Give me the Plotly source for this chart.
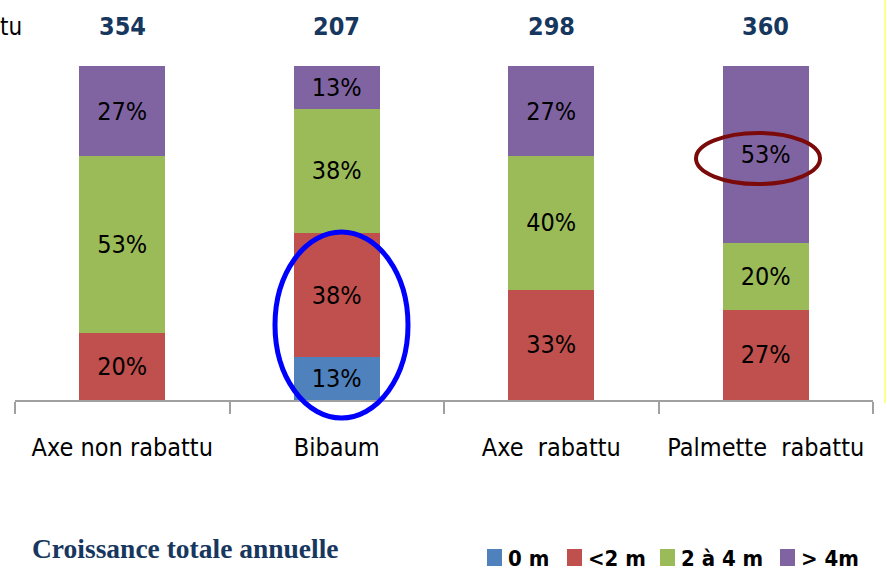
import plotly.graph_objects as go

# DATA -----------------------------------------------------------------------
categories = ["Axe non rabattu", "Bibaum", "Axe  rabattu", "Palmette  rabattu"]
totals = [354, 207, 298, 360]
series_names = ["0 m", "<2 m", "2 à 4 m", "> 4m"]
pct_0m = [0, 13, 0, 0]
pct_lt2m = [20, 38, 33, 27]
pct_2a4m = [53, 38, 40, 20]
pct_gt4m = [27, 13, 27, 53]

colors = ["#4F81BD", "#C0504D", "#9BBB59", "#8064A2"]
NARROW = "DejaVu Sans Condensed, Liberation Sans Narrow, sans-serif"
NAVY = "#17375E"

# plot area in pixels: x 15..873, y 66..400
def px(x):
    return (x - 15) / 858


def py(y):
    return (400 - y) / 334


def bar_trace(name, values, color):
    return go.Bar(
        x=categories,
        y=values,
        name=name,
        width=0.4,
        marker=dict(color=color, line=dict(width=0)),
        text=[f"{v}%" if v else "" for v in values],
        textposition="inside",
        insidetextanchor="middle",
        textangle=0,
        constraintext="none",
        textfont=dict(family=NARROW, size=25, color="black"),
        showlegend=False,
    )


fig = go.Figure()
for name, vals, col in zip(series_names, [pct_0m, pct_lt2m, pct_2a4m, pct_gt4m], colors):
    fig.add_trace(bar_trace(name, vals, col))

# totals above the bars
for cat, tot in zip(categories, totals):
    fig.add_annotation(
        x=cat, y=py(27), xref="x", yref="paper", text=f"<b>{tot}</b>",
        showarrow=False, yanchor="middle",
        font=dict(family=NARROW, size=25, color=NAVY),
    )

# cut-off text at the top left
fig.add_annotation(
    x=px(-2), y=py(27), xref="paper", yref="paper", text="tu",
    showarrow=False, xanchor="left", yanchor="middle",
    font=dict(family=NARROW, size=24, color="black"),
)

# title at the bottom
fig.add_annotation(
    x=px(30), y=py(548), xref="paper", yref="paper",
    text="<b>Croissance totale annuelle</b>",
    showarrow=False, xanchor="left", yanchor="middle",
    font=dict(family="Liberation Serif, Times New Roman, serif", size=27.5, color=NAVY),
)

# legend drawn by hand (tight spacing like the original)
legend_left = [487, 567, 660, 780]
for name, col, x0 in zip(series_names, colors, legend_left):
    fig.add_shape(type="rect", xref="paper", yref="paper",
                  x0=px(x0), x1=px(x0 + 15), y0=py(566), y1=py(549),
                  fillcolor=col, line=dict(width=0))
    fig.add_annotation(
        x=px(x0 + 19), y=py(558), xref="paper", yref="paper",
        text=f"<b>{name}</b>", showarrow=False, xanchor="left", yanchor="middle",
        font=dict(family=NARROW, size=22, color="black"),
    )

# highlight ellipses
fig.add_shape(type="circle", xref="paper", yref="paper",
              x0=px(275), x1=px(408), y0=py(418), y1=py(232),
              line=dict(color="#0000FF", width=5))
fig.add_shape(type="circle", xref="paper", yref="paper",
              x0=px(696), x1=px(820), y0=py(184), y1=py(133),
              line=dict(color="#7B0A0A", width=4))
# yellow frame edge on the right
fig.add_shape(type="line", xref="paper", yref="paper",
              x0=px(885), x1=px(885), y0=py(403), y1=py(0),
              line=dict(color="#FFFF66", width=1.5))

fig.update_layout(
    width=887,
    height=570,
    barmode="stack",
    barnorm="percent",
    plot_bgcolor="white",
    paper_bgcolor="white",
    margin=dict(l=15, r=14, t=66, b=170, autoexpand=False),
    showlegend=False,
    xaxis=dict(
        range=[-0.5, 3.5], automargin=False, tickangle=0,
        showline=True, linecolor="#A0A0A0", linewidth=1.5,
        ticks="outside", tickson="boundaries", ticklen=12, tickcolor="#A0A0A0",
        tickwidth=1.5, ticklabelstandoff=24,
        tickfont=dict(family=NARROW, size=25, color="black"),
        showgrid=False, zeroline=False,
    ),
    yaxis=dict(
        range=[0, 100], visible=False, showgrid=False, zeroline=False,
    ),
)

fig.write_html("out.html", config={"displayModeBar": False},
               post_script="document.body.style.margin='0px';")
